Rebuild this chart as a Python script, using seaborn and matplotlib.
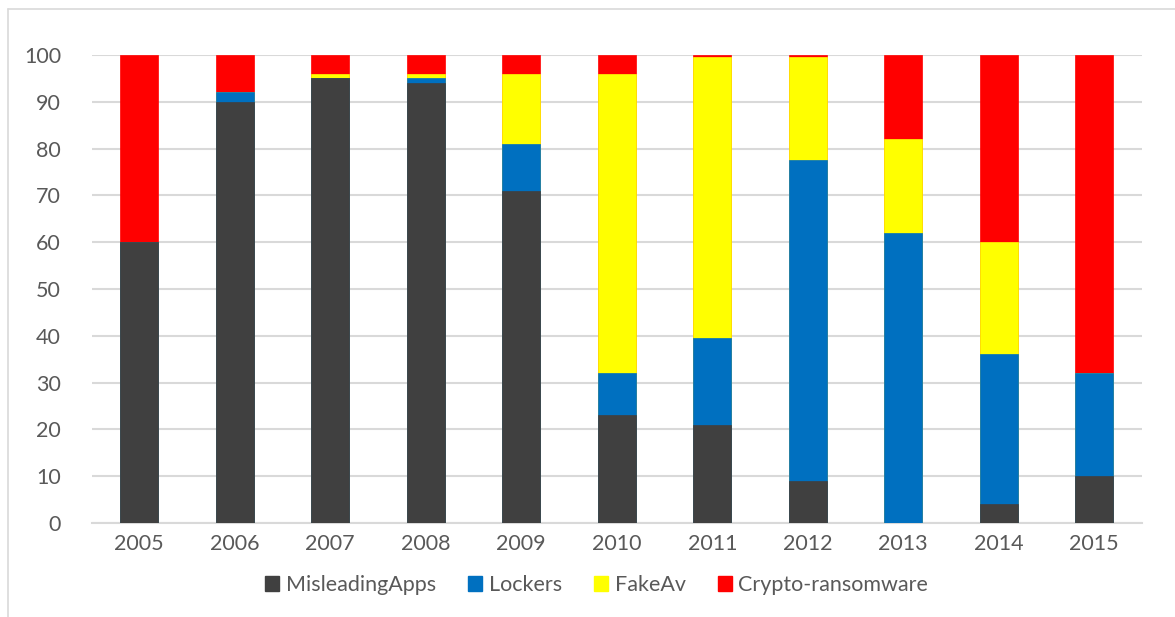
import numpy as np
import pandas as pd
import matplotlib
matplotlib.use("Agg")
import matplotlib.pyplot as plt
import seaborn as sns
from matplotlib.patches import Patch
from matplotlib.lines import Line2D

years = ["2005", "2006", "2007", "2008", "2009", "2010",
         "2011", "2012", "2013", "2014", "2015"]
misleading_apps = [60, 90, 95, 94, 71, 23, 21, 9, 0, 4, 10]
lockers = [0, 2, 0, 1, 10, 9, 18.5, 68.5, 62, 32, 22]
fake_av = [0, 0, 1, 1, 15, 64, 60, 22, 20, 24, 0]
crypto_ransomware = [40, 8, 4, 4, 4, 4, 0.5, 0.5, 18, 40, 68]

series_names = ["MisleadingApps", "Lockers", "FakeAv", "Crypto-ransomware"]
series_colors = ["#404040", "#0070C0", "#FFFF00", "#FF0000"]

sns.set_theme(style="white")
plt.rcParams["font.family"] = ["Lato", "DejaVu Sans"]

fig = plt.figure(figsize=(11.75, 6.17), dpi=100)
ax = fig.add_axes([0.0779, 0.1524, 0.9719 - 0.0779, 0.9109 - 0.1524])

stack = np.array([misleading_apps, lockers, fake_av, crypto_ransomware], dtype=float)
cumulative = np.cumsum(stack, axis=0)

# draw tallest cumulative layer first so each lower segment overlays it
for i in range(len(series_names) - 1, -1, -1):
    df = pd.DataFrame({"year": years, "value": cumulative[i]})
    sns.barplot(data=df, x="year", y="value", color=series_colors[i],
                saturation=1, width=0.4, ax=ax, zorder=3,
                edgecolor=series_colors[i], linewidth=0.5)

ax.set_ylim(0, 100)
ax.set_xlim(-0.5, len(years) - 0.5)
ax.set_yticks(np.arange(0, 101, 10))
ax.yaxis.grid(True, color="#d9d9d9", linewidth=1.5, zorder=0)
ax.xaxis.grid(False)
for side in ["top", "right", "left"]:
    ax.spines[side].set_visible(False)
ax.spines["bottom"].set_color("#d9d9d9")
ax.spines["bottom"].set_linewidth(1.5)
ax.tick_params(axis="both", length=0, labelsize=15.5, colors="#595959")
ax.tick_params(axis="y", pad=22)
ax.tick_params(axis="x", pad=8)
ax.set_xlabel("")
ax.set_ylabel("")

handles = [Patch(facecolor=c, edgecolor=c) for c in series_colors]
fig.legend(handles, series_names, loc="center", bbox_to_anchor=(0.508, 0.052),
           ncol=4, frameon=False, fontsize=15.5, handlelength=0.65,
           handleheight=0.65, handletextpad=0.3, columnspacing=1.5,
           labelcolor="#595959")

# light chart frame
fig.add_artist(Line2D([8 / 1175, 1], [1 - 9 / 617, 1 - 9 / 617],
                      transform=fig.transFigure, color="#d9d9d9", linewidth=1.2))
fig.add_artist(Line2D([8 / 1175, 8 / 1175], [0, 1 - 9 / 617],
                      transform=fig.transFigure, color="#d9d9d9", linewidth=1.2))

fig.savefig("out.png", dpi=100)
